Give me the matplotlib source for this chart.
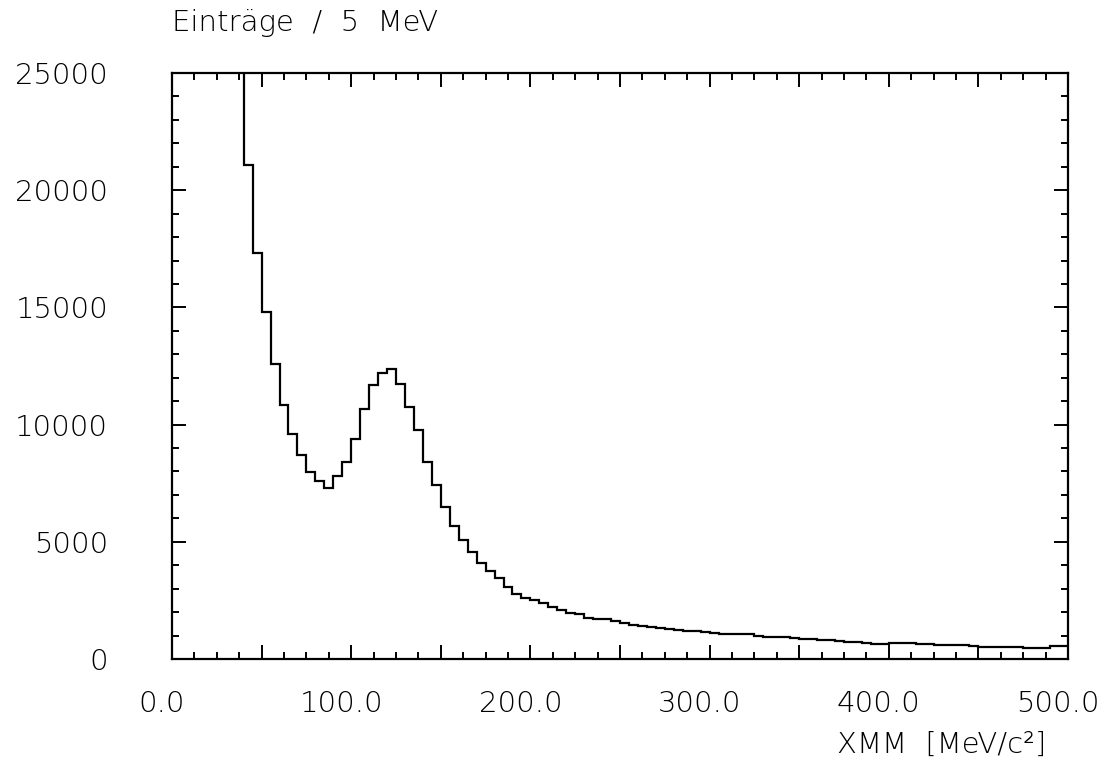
import numpy as np
import matplotlib
matplotlib.use("Agg")
import matplotlib.pyplot as plt
from matplotlib.ticker import MultipleLocator
import matplotlib.transforms as mtrans

# ---- data ----
bin_width = 5.0
first_edge = 35.0
counts = [
    30000,                                              # 35-40 (off scale)
    21075, 17335, 14790, 12585, 10836, 9600,            # 40-70
    8703, 7965, 7580, 7310, 7807, 8420,                 # 70-100
    9400, 10650, 11690, 12190, 12370, 11720,            # 100-130
    10765, 9770, 8390, 7420, 6470, 5675,                # 130-160
    5060, 4580, 4110, 3755, 3470, 3085,                 # 160-190
    2760, 2615, 2500, 2375, 2230, 2090,                 # 190-220
    1960, 1940, 1760, 1700, 1700, 1625,                 # 220-250
    1520, 1430, 1390, 1380, 1320, 1280,                 # 250-280
    1250, 1200, 1190, 1170, 1130, 1080,                 # 280-310
    1060, 1050, 1080, 960, 950, 940,                    # 310-340
    930, 900, 850, 840, 830, 820,                       # 340-370
    760, 740, 730, 690, 650, 640,                       # 370-400
    690, 700, 680, 650, 620, 600,                       # 400-430
    600, 590, 580, 570, 530, 520,                       # 430-460
    520, 510, 500, 490, 480, 480,                       # 460-490
    540, 560,                                           # 490-500
]
x_ticklabels = ["0.0", "100.0", "200.0", "300.0", "400.0", "500.0"]
x_tickvals = [0, 100, 200, 300, 400, 500]
y_tickvals = [0, 5000, 10000, 15000, 20000, 25000]
y_ticklabels = ["0", "5000", "10000", "15000", "20000", "25000"]
title_text = "Einträge  /  5  MeV"
xlabel_text = "XMM  [MeV/c²]"

edges = first_edge + bin_width * np.arange(len(counts) + 1)

# ---- figure ----
plt.rcParams['font.family'] = ['DejaVu Sans']
fig = plt.figure(figsize=(11.04, 7.71), dpi=100)
ax = fig.add_axes([172/1104, 1 - 659/771, (1068 - 172)/1104, (659 - 73)/771])

ax.stairs(counts, edges, baseline=None, color='black', linewidth=1.6)

ax.set_xlim(0, 500)
ax.set_ylim(0, 25000)

for s in ax.spines.values():
    s.set_linewidth(1.6)

ax.xaxis.set_major_locator(MultipleLocator(50))
ax.xaxis.set_minor_locator(MultipleLocator(12.5))
ax.yaxis.set_major_locator(MultipleLocator(5000))
ax.yaxis.set_minor_locator(MultipleLocator(1000))

ax.tick_params(which='both', direction='in', top=True, right=True,
               width=1.4, colors='black')
ax.tick_params(which='major', length=10)
ax.tick_params(which='minor', length=5)

fs = 21
labs = []
for v in np.arange(0, 501, 50):
    iv = int(round(v))
    labs.append(x_ticklabels[x_tickvals.index(iv)] if iv in x_tickvals else "")
ax.set_xticks(np.arange(0, 501, 50))
ax.set_xticklabels(labs, fontsize=fs, fontweight='light')
ax.set_yticks(y_tickvals)
ax.set_yticklabels(y_ticklabels, fontsize=fs, fontweight='light')
ax.tick_params(axis='x', which='major', pad=22)
ax.tick_params(axis='y', which='major', pad=46)

off = mtrans.ScaledTranslation(-10/100, 0, fig.dpi_scale_trans)
for lab in ax.get_xticklabels():
    lab.set_transform(lab.get_transform() + off)

fig.text(172/1104, 1 - 23/771, title_text, fontsize=fs, fontweight='light',
         ha='left', va='center')
fig.text(942/1104, 1 - 745/771, xlabel_text, fontsize=fs, fontweight='light',
         ha='center', va='center')

fig.savefig("out.png", dpi=100)
